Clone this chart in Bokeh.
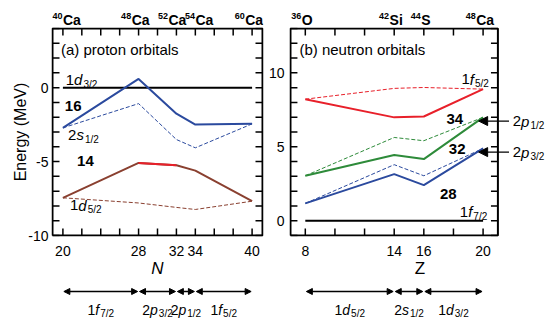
from bokeh.plotting import figure
from bokeh.models import Label, Arrow, NormalHead, FixedTicker, LinearAxis, Range1d
from bokeh.layouts import row, column
from bokeh.embed import file_html
from bokeh.resources import INLINE

FONT = "Liberation Sans"
NAN = float("nan")

# ---------------- data: panel (a) proton orbitals ----------------
N = [20, 28, 32, 34, 40]
a_d32 = [0.0, 0.0, 0.0, 0.0, 0.0]
a_s12_solid = [-2.72, 0.59, -1.76, -2.50, -2.45]
a_s12_dash = [-2.72, -1.08, -3.51, -4.07, -2.45]
a_d52_solid = [-7.45, -5.09, -5.25, -5.61, -7.68]
a_d52_dash = [-7.45, -7.80, -8.10, -8.24, -7.68]
a_xticks = [20, 28, 32, 34, 40]
a_xminor = [20, 22, 24, 26, 28, 30, 32, 34, 36, 38, 40]
a_yticks = [-10, -5, 0]
a_yminor = [-10, -9, -8, -7, -6, -5, -4, -3, -2, -1, 0, 1, 2, 3, 4]
a_nuclei = [("40", "Ca"), ("48", "Ca"), ("52", "Ca"), ("54", "Ca"), ("60", "Ca")]
a_shells = [20, 28, 32, 34, 40]
a_shell_names = ["1f7/2", "2p3/2", "2p1/2", "1f5/2"]

# ---------------- data: panel (b) neutron orbitals ----------------
Z = [8, 14, 16, 20]
b_f72 = [0.0, 0.0, 0.0, 0.0]
b_f52_solid = [8.22, 6.99, 7.05, 8.90]
b_f52_dash = [8.22, 8.95, 9.01, 8.90]
b_p12_solid = [3.04, 4.44, 4.17, 6.99]
b_p12_dash = [3.04, 5.63, 5.41, 6.99]
b_p32_solid = [1.17, 3.15, 2.41, 4.89]
b_p32_dash = [1.17, 3.79, 3.04, 4.89]
b_xticks = [8, 14, 16, 20]
b_xminor = [8, 10, 12, 14, 16, 18, 20]
b_yticks = [0, 5, 10]
b_yminor = [-1, 0, 1, 2, 3, 4, 5, 6, 7, 8, 9, 10, 11, 12, 13]
b_nuclei = [("36", "O"), ("42", "Si"), ("44", "S"), ("48", "Ca")]
b_shells = [8, 14, 16, 20]
b_shell_names = ["1d5/2", "2s1/2", "1d3/2"]

# ---------------- styles / layout ----------------
BLUE = "#2b4a9e"
RED = "#e8202a"
BROWN = "#8a4030"
GREEN = "#2e8b3a"
DASH = "4 2"
TICK = 7  # px, inward

TOP_H, BOT_H = 27, 44
FRAME_H, XAX_H = 210, 43
A_BL, A_BR, A_FW = 51, 2, 212
B_BL, B_BR, B_FW = 22, 0, 263
A_BOX_X, A_BOX_Y = (18.9, 41.1), (-10, 4)
B_BOX_X, B_BOX_Y = (7, 21), (-1, 13)
SX_A = 210 / (A_BOX_X[1] - A_BOX_X[0])
SX_B = 209 / (B_BOX_X[1] - B_BOX_X[0])
SY = 208 / 14
A_XR = (A_BOX_X[0] - 1 / SX_A, A_BOX_X[0] + (A_FW - 1) / SX_A)
B_XR = (B_BOX_X[0] - 1 / SX_B, B_BOX_X[0] + (B_FW - 1) / SX_B)
A_YR = (A_BOX_Y[0] - 1 / SY, A_BOX_Y[1] + 1 / SY)
B_YR = (B_BOX_Y[0] - 1 / SY, B_BOX_Y[1] + 1 / SY)

W = {str(d): 0.556 for d in range(10)}
W.update({"/": 0.278, "d": 0.556, "f": 0.278, "p": 0.556, "s": 0.5})
WB = {str(d): 0.556 for d in range(10)}
WB.update({"C": 0.722, "a": 0.556, "S": 0.667, "i": 0.278, "O": 0.778})


def orbital(p, x, y, name, size=15, sub=10, align="left"):
    n, l, j = name[0], name[1], name[2:]
    wn = W[n] * size
    wl = W[l] * size + 1
    wj = sum(W[c] for c in j) * sub
    total = wn + wl + wj
    x0 = {"left": 0, "center": -total / 2, "right": -total}[align]
    parts = [(n, size, "normal", x0, 0),
             (l, size, "italic", x0 + wn, 0),
             (j, sub, "normal", x0 + wn + wl, -0.3 * size)]
    for text, s, style, xo, yo in parts:
        p.add_layout(Label(x=x, y=y, x_offset=xo, y_offset=yo, text=text,
                           text_font=FONT, text_font_size=f"{s}px",
                           text_font_style=style, text_align="left",
                           text_baseline="middle", text_color="black"))


def bold_num(p, x, y, text, size=15):
    p.add_layout(Label(x=x, y=y, text=text, text_font=FONT, text_font_size=f"{size}px",
                       text_font_style="bold", text_align="left", text_baseline="middle",
                       text_color="black"))


def nucleus(s, x, mass, elem, shift=0):
    we = sum(WB[c] for c in elem) * 14
    s.add_layout(Label(x=x, y=0.27, x_offset=2 + shift, text=elem,
                       text_font=FONT, text_font_size="14px", text_font_style="bold",
                       text_align="center", text_baseline="middle", text_color="black"))
    s.add_layout(Label(x=x, y=0.41, x_offset=2 + shift - we / 2 - 0.5, text=mass,
                       text_font=FONT, text_font_size="9px", text_font_style="bold",
                       text_align="right", text_baseline="middle", text_color="black"))


def strip(xr, h, bl, br, fw):
    s = figure(width=bl + fw + br, height=h, x_range=xr, y_range=Range1d(0, 1),
               output_backend="svg", toolbar_location=None,
               min_border_left=bl, min_border_right=br, min_border_top=0, min_border_bottom=0,
               x_axis_location=None, y_axis_location=None)
    s.grid.visible = False
    s.outline_line_color = None
    s.background_fill_color = "white"
    s.border_fill_color = "white"
    return s


def label_axis(ticks, label=None, style="normal", size="16px", standoff=5, lab_standoff=0):
    ax = LinearAxis(ticker=FixedTicker(ticks=ticks), axis_line_color=None,
                    major_tick_in=0, major_tick_out=0, minor_tick_in=0, minor_tick_out=0,
                    major_tick_line_color=None, minor_tick_line_color=None)
    ax.major_label_overrides = {t: str(t) for t in ticks}
    ax.major_label_text_font = FONT
    ax.major_label_text_font_size = "14px"
    ax.major_label_text_color = "black"
    ax.major_label_standoff = standoff
    if label:
        ax.axis_label = label
        ax.axis_label_text_font = FONT
        ax.axis_label_text_font_style = style
        ax.axis_label_text_font_size = size
        ax.axis_label_text_color = "black"
        ax.axis_label_standoff = lab_standoff
    return ax


def main_fig(xr, yr, bl, br, fw):
    p = figure(width=bl + fw + br, height=FRAME_H + XAX_H, x_range=xr, y_range=yr,
               output_backend="svg", toolbar_location=None,
               min_border_left=bl, min_border_right=br, min_border_top=0,
               min_border_bottom=XAX_H, x_axis_location=None, y_axis_location=None)
    p.grid.visible = False
    p.outline_line_color = None
    p.background_fill_color = "white"
    p.border_fill_color = "white"
    return p


def box_and_ticks(p, bx, by, sx, xminor, yminor):
    # frame box
    p.line([bx[0], bx[1], bx[1], bx[0], bx[0]], [by[0], by[0], by[1], by[1], by[0]],
           line_color="black", line_width=2)
    dx, dy = TICK / sx, TICK / SY
    xs, ys = [], []
    for x in xminor:
        xs += [x, x, NAN, x, x, NAN]
        ys += [by[0], by[0] + dy, NAN, by[1], by[1] - dy, NAN]
    for y in yminor:
        xs += [bx[0], bx[0] + dx, NAN, bx[1], bx[1] - dx, NAN]
        ys += [y, y, NAN, y, y, NAN]
    p.line(xs, ys, line_color="black", line_width=1.5)


# ================= panel (a) =================
axr = Range1d(*A_XR)
pa = main_fig(axr, Range1d(*A_YR), A_BL, A_BR, A_FW)
pa.add_layout(label_axis(a_xticks, "N", "italic", "17px", 9), "below")
pa.add_layout(label_axis(a_yticks, "Energy (MeV)", "normal", "16px", 3, -4), "left")
box_and_ticks(pa, A_BOX_X, A_BOX_Y, SX_A, a_xminor, a_yminor)

pa.line(N, a_d32, line_color="black", line_width=2)
pa.line(N, a_s12_dash, line_color=BLUE, line_width=1, line_dash=DASH)
pa.line(N, a_s12_solid, line_color=BLUE, line_width=2)
pa.line(N, a_d52_dash, line_color=BROWN, line_width=1, line_dash=DASH)
pa.line(N, a_d52_solid, line_color=BROWN, line_width=2)
pa.line(N[1:3], a_d52_solid[1:3], line_color=RED, line_width=2)

pa.add_layout(Label(x=19.8, y=2.57, text="(a) proton orbitals", text_font=FONT,
                    text_font_size="15px", text_align="left", text_baseline="middle",
                    text_color="black"))
orbital(pa, 20.3, 0.54, "1d3/2")
orbital(pa, 20.55, -3.18, "2s1/2")
orbital(pa, 20.75, -7.97, "1d5/2")
bold_num(pa, 20.2, -1.22, "16")
bold_num(pa, 21.5, -4.98, "14")

ta = strip(axr, TOP_H, A_BL, A_BR, A_FW)
a_shift = [7, 0, -1, 7, 0]
for x, (m, e), s in zip(a_xticks, a_nuclei, a_shift):
    nucleus(ta, x, m, e, s)

ba = strip(axr, BOT_H, A_BL, A_BR, A_FW)
for i, name in enumerate(a_shell_names):
    x0, x1 = a_shells[i], a_shells[i + 1]
    ba.add_layout(Arrow(x_start=x0 + 0.1, y_start=0.75, x_end=x1 - 0.1, y_end=0.75,
                        start=NormalHead(size=6, fill_color="black", line_color="black"),
                        end=NormalHead(size=6, fill_color="black", line_color="black"),
                        line_width=1.5, line_color="black"))
    orbital(ba, (x0 + x1) / 2, 0.34, name, size=14, sub=10, align="center")

# ================= panel (b) =================
bxr = Range1d(*B_XR)
pb = main_fig(bxr, Range1d(*B_YR), B_BL, B_BR, B_FW)
pb.add_layout(label_axis(b_xticks, "Z", "normal", "17px", 9), "below")
pb.add_layout(label_axis(b_yticks, None, "normal", "16px", 5), "left")
box_and_ticks(pb, B_BOX_X, B_BOX_Y, SX_B, b_xminor, b_yminor)

pb.line(Z, b_f72, line_color="black", line_width=2)
pb.line(Z, b_f52_dash, line_color=RED, line_width=1, line_dash=DASH)
pb.line(Z, b_f52_solid, line_color=RED, line_width=2)
pb.line(Z, b_p12_dash, line_color=GREEN, line_width=1, line_dash=DASH)
pb.line(Z, b_p12_solid, line_color=GREEN, line_width=2)
pb.line(Z, b_p32_dash, line_color=BLUE, line_width=1, line_dash=DASH)
pb.line(Z, b_p32_solid, line_color=BLUE, line_width=2)

pb.add_layout(Label(x=7.6, y=11.6, text="(b) neutron orbitals", text_font=FONT,
                    text_font_size="15px", text_align="left", text_baseline="middle",
                    text_color="black"))
orbital(pb, 18.54, 9.57, "1f5/2")
orbital(pb, 18.43, 0.59, "1f7/2")
bold_num(pb, 17.53, 6.87, "34")
bold_num(pb, 17.69, 4.84, "32")
bold_num(pb, 17.09, 1.78, "28")

# side pointers to the 2p levels at Z = 20
for yv, name in [(b_p12_solid[-1] - 0.25, "2p1/2"), (b_p32_solid[-1] - 0.25, "2p3/2")]:
    pb.add_layout(Arrow(x_start=Z[-1] + 1.75, y_start=yv, x_end=Z[-1] - 0.3, y_end=yv,
                        end=NormalHead(size=9, fill_color="black", line_color="black"),
                        line_width=1.3, line_color="black"))
    orbital(pb, Z[-1] + 2.0, yv, name, size=15, sub=10, align="left")

tb = strip(bxr, TOP_H, B_BL, B_BR, B_FW)
b_shift = [0, 0, 0, 0]
for x, (m, e), s in zip(b_xticks, b_nuclei, b_shift):
    nucleus(tb, x, m, e, s)

bb = strip(bxr, BOT_H, B_BL, B_BR, B_FW)
for i, name in enumerate(b_shell_names):
    x0, x1 = b_shells[i], b_shells[i + 1]
    bb.add_layout(Arrow(x_start=x0 + 0.07, y_start=0.75, x_end=x1 - 0.07, y_end=0.75,
                        start=NormalHead(size=6, fill_color="black", line_color="black"),
                        end=NormalHead(size=6, fill_color="black", line_color="black"),
                        line_width=1.5, line_color="black"))
    orbital(bb, (x0 + x1) / 2, 0.34, name, size=14, sub=10, align="center")

layout = row(column(ta, pa, ba, spacing=0), column(tb, pb, bb, spacing=0), spacing=0)
open("out.html", "w").write(file_html(layout, INLINE))
